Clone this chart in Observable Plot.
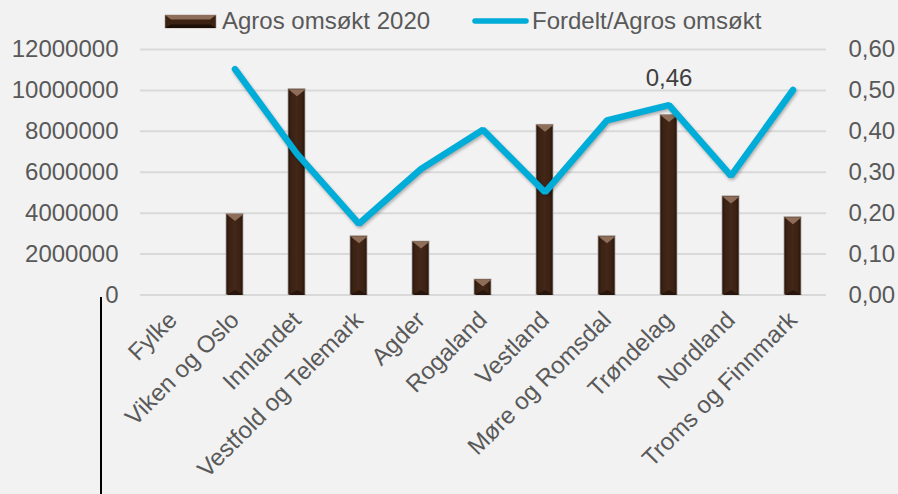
<!DOCTYPE html>
<html><head><meta charset="utf-8">
<script src="https://cdn.jsdelivr.net/npm/d3@7"></script>
<script src="https://cdn.jsdelivr.net/npm/@observablehq/plot@0.6"></script>
<style>
html,body{margin:0;padding:0;background:#f2f2f2;}
#wrap{position:relative;width:898px;height:494px;overflow:hidden;background:#f2f2f2;font-family:"Liberation Sans",Arial,sans-serif;}
#legend{position:absolute;left:0;top:0;}
#vline{position:absolute;left:100px;top:297px;width:2px;height:197px;background:#000;}
g[aria-label="line"] path{filter:drop-shadow(1px 2px 1.5px rgba(0,0,0,0.28));}
</style></head>
<body><div id="wrap"></div>
<script>
const categories = ["Fylke","Viken og Oslo","Innlandet","Vestfold og Telemark","Agder","Rogaland","Vestland","Møre og Romsdal","Trøndelag","Nordland","Troms og Finnmark"];
const agrosOmsokt = [null, 3960000, 10060000, 2870000, 2610000, 756000, 8320000, 2870000, 8800000, 4820000, 3800000];
const fordeltRatio = [null, 0.552, 0.345, 0.174, 0.308, 0.404, 0.251, 0.427, 0.464, 0.291, 0.501];
const leftTicks = [0, 2000000, 4000000, 6000000, 8000000, 10000000, 12000000];
const rightTickLabels = ["0,00","0,10","0,20","0,30","0,40","0,50","0,60"];
const labelled = ["Trøndelag"];
const seriesNames = ["Agros omsøkt 2020", "Fordelt/Agros omsøkt"];

const leftMax = leftTicks[leftTicks.length - 1];
const rightMax = +rightTickLabels[rightTickLabels.length - 1].replace(",", ".");
const k = leftMax / rightMax;

const bars = categories.map((c, i) => ({cat: c, v: agrosOmsokt[i]})).filter(d => d.v != null);
const pts = categories.map((c, i) => ({cat: c, r: fordeltRatio[i]})).filter(d => d.r != null);

const bevelTop = {draw(ctx){ const w = 8.7; ctx.moveTo(-w, 0); ctx.lineTo(w, 0); ctx.lineTo(0, 7); ctx.closePath(); }};
const bevelBottom = {draw(ctx){ const w = 8.7; ctx.moveTo(-w, 0); ctx.lineTo(w, 0); ctx.lineTo(0, -5); ctx.closePath(); }};

const chart = Plot.plot({
  width: 898, height: 494,
  marginTop: 49, marginBottom: 199.5, marginLeft: 140, marginRight: 72,
  style: {background: "transparent", fontFamily: "Liberation Sans, Arial, sans-serif", fontSize: "24px", color: "#595959"},
  x: {domain: categories, paddingInner: 0.72, paddingOuter: 0.36, label: null},
  y: {domain: [0, leftMax], label: null},
  marks: [
    Plot.gridY(leftTicks, {stroke: "#d9d9d9", strokeOpacity: 1, strokeWidth: 2}),
    Plot.barY(bars, {x: "cat", y: "v", fill: "url(#barGrad)", stroke: "#aaa39e", strokeWidth: 0.8}),
    Plot.dot(bars, {x: "cat", y: "v", symbol: bevelTop, fill: "#8e6d59", stroke: "none", r: 5}),
    Plot.dot(bars, {x: "cat", y: () => 0, symbol: bevelBottom, fill: "#28150b", stroke: "none", r: 5}),
    Plot.line(pts, {x: "cat", y: d => d.r * k, stroke: "#00acd8", strokeWidth: 6.5, strokeLinecap: "round", strokeLinejoin: "miter"}),
    Plot.text(pts.filter(d => labelled.includes(d.cat)), {x: "cat", y: d => d.r * k, text: d => d.r.toFixed(2).replace(".", ","), dy: -27, fontSize: 24, fill: "#404040"}),
    Plot.axisY(leftTicks, {anchor: "left", tickSize: 0, tickPadding: 22, tickFormat: d => String(d), label: null}),
    Plot.axisY(leftTicks, {anchor: "right", tickSize: 0, tickPadding: 22, tickFormat: d => rightTickLabels[leftTicks.indexOf(d)], label: null}),
    Plot.axisX({tickSize: 0, tickRotate: -45, tickPadding: 21, label: null, fontSize: 24})
  ]
});

chart.insertAdjacentHTML("afterbegin",
  '<defs><linearGradient id="barGrad" x1="0" x2="1" y1="0" y2="0">' +
  '<stop offset="0" stop-color="#22120a"/><stop offset="0.18" stop-color="#3b2213"/>' +
  '<stop offset="0.5" stop-color="#432718"/><stop offset="0.82" stop-color="#3b2213"/>' +
  '<stop offset="1" stop-color="#22120a"/></linearGradient></defs>');

const wrap = document.getElementById("wrap");
wrap.appendChild(chart);

const ns = "http://www.w3.org/2000/svg";
const leg = document.createElementNS(ns, "svg");
leg.setAttribute("id", "legend");
leg.setAttribute("width", 898);
leg.setAttribute("height", 40);
leg.innerHTML =
  '<rect x="165" y="15" width="51" height="13" fill="#3b2213" stroke="#9c928c" stroke-width="0.6"/>' +
  '<polygon points="165,15 216,15 210,19.5 171,19.5" fill="#8e6d59"/>' +
  '<polygon points="165,28 216,28 210,24.5 171,24.5" fill="#1d0f07"/>' +
  '<text x="222" y="28.5" font-size="24" fill="#595959" font-family="Liberation Sans, Arial, sans-serif"></text>' +
  '<line x1="475" y1="21" x2="526" y2="21" stroke="#00acd8" stroke-width="5.5" stroke-linecap="round"/>' +
  '<text x="532" y="28.5" font-size="24" fill="#595959" font-family="Liberation Sans, Arial, sans-serif"></text>';
const texts = leg.querySelectorAll("text");
texts[0].textContent = seriesNames[0];
texts[1].textContent = seriesNames[1];
wrap.appendChild(leg);

const vl = document.createElement("div");
vl.id = "vline";
wrap.appendChild(vl);
</script>
</body></html>
